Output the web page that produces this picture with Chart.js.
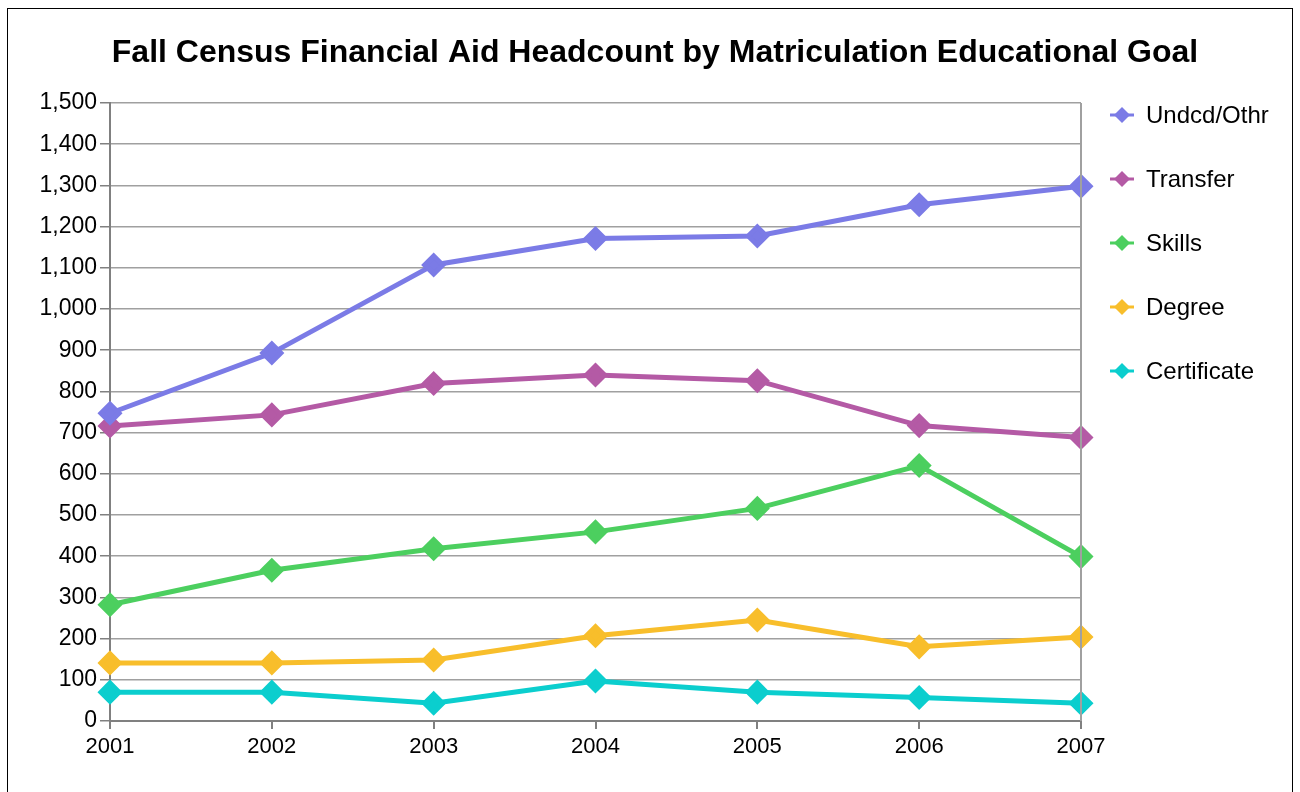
<!DOCTYPE html>
<html><head><meta charset="utf-8">
<script src="https://cdn.jsdelivr.net/npm/chart.js@4"></script>
<style>html,body{margin:0;padding:0;background:#fff}#wrap{width:1300px;height:792px;position:relative}</style>
</head><body><div id="wrap"><canvas id="c" width="1300" height="792"></canvas></div>
<script>
const years = ['2001','2002','2003','2004','2005','2006','2007'];
const undcdOthr = [747, 893, 1107, 1171, 1177, 1253, 1298];
const transfer = [716, 743, 819, 840, 826, 717, 688];
const skills = [282, 366, 418, 459, 516, 620, 399];
const degree = [141, 141, 148, 207, 245, 180, 204];
const certificate = [70, 70, 43, 97, 70, 57, 43];
const seriesNames = ['Undcd/Othr','Transfer','Skills','Degree','Certificate'];
const seriesColors = ['#7b7be6','#b45aa5','#4ccf5f','#f8be2b','#0bcece'];
const seriesData = [undcdOthr, transfer, skills, degree, certificate];
const titleText = 'Fall Census Financial Aid Headcount by Matriculation Educational Goal';

const datasets = seriesNames.map((n,i)=>({
  label:n, data:seriesData[i], borderColor:seriesColors[i], backgroundColor:seriesColors[i],
  borderWidth:5, pointStyle:'rectRot', pointRadius:9, pointHoverRadius:9, tension:0, fill:false
}));

const deco = {
  id:'deco',
  afterDraw(chart){
    const ctx = chart.ctx, a = chart.chartArea;
    ctx.save();
    ctx.strokeStyle='#000'; ctx.lineWidth=1;
    ctx.strokeRect(7.5,8.5,1285,800);
    ctx.strokeStyle='#a0a0a0'; ctx.lineWidth=2;
    ctx.beginPath(); ctx.moveTo(a.right, a.top); ctx.lineTo(a.right, a.bottom); ctx.stroke();
    ctx.fillStyle='#000'; ctx.font='bold 32px "Liberation Sans", Arial, sans-serif';
    ctx.textAlign='center'; ctx.textBaseline='middle';
    ctx.fillText(titleText, 655, 53);
    ctx.font='24px "Liberation Sans", Arial, sans-serif'; ctx.textAlign='left';
    seriesNames.forEach((n,i)=>{
      const y = 115 + i*64, x0 = 1110, x1 = 1134, cx = (x0+x1)/2;
      ctx.strokeStyle=seriesColors[i]; ctx.lineWidth=3;
      ctx.beginPath(); ctx.moveTo(x0,y); ctx.lineTo(x1,y); ctx.stroke();
      ctx.fillStyle=seriesColors[i];
      ctx.beginPath(); ctx.moveTo(cx,y-8); ctx.lineTo(cx+8,y); ctx.lineTo(cx,y+8); ctx.lineTo(cx-8,y); ctx.closePath(); ctx.fill();
      ctx.fillStyle='#000'; ctx.fillText(n, 1146, y+1);
    });
    ctx.restore();
  }
};

new Chart(document.getElementById('c'), {
  type:'line',
  data:{labels:years, datasets},
  options:{
    responsive:false, animation:false, devicePixelRatio:1,
    layout:{padding:{left:10, right:219, top:103, bottom:0}},
    plugins:{legend:{display:false}, title:{display:false}, tooltip:{enabled:false}},
    scales:{
      x:{
        offset:false,
        grid:{drawOnChartArea:false, drawTicks:true, tickLength:8, color:'#808080', lineWidth:2},
        border:{display:true, color:'#808080', width:2},
        ticks:{color:'#000', font:{family:'"Liberation Sans", Arial, sans-serif', size:22}, padding:5, maxRotation:0},
        afterFit(s){ s.height = 71; }
      },
      y:{
        min:0, max:1500,
        grid:{color:'#a0a0a0', lineWidth:1.5, tickLength:10, tickColor:'#808080'},
        border:{display:true, color:'#808080', width:2},
        ticks:{stepSize:100, color:'#000', padding:3, font:{family:'"Liberation Sans", Arial, sans-serif', size:23},
          callback:v=>v.toLocaleString('en-US')},
        afterFit(s){ s.width = 100; }
      }
    }
  },
  plugins:[deco]
});
</script></body></html>
